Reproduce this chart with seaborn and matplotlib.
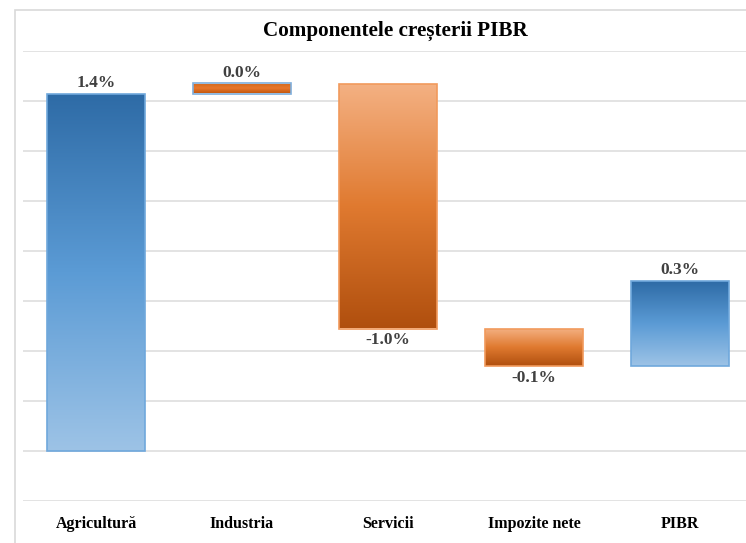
import numpy as np
import pandas as pd
import seaborn as sns
import matplotlib
matplotlib.use("Agg")
from matplotlib import pyplot as plt
from matplotlib.colors import LinearSegmentedColormap
from matplotlib.patches import Rectangle

# data
categories = ["Agricultură", "Industria", "Servicii", "Impozite nete", "PIBR"]
values = [1.43, 0.04, -0.98, -0.15, 0.34]
value_labels = ["1.4%", "0.0%", "-1.0%", "-0.1%", "0.3%"]

# waterfall bottoms (the total bar sits on top of the running end, like the original)
bottoms = []
run = 0.0
for v in values[:-1]:
    bottoms.append(run if v >= 0 else run + v)
    run += v
bottoms.append(run)

df = pd.DataFrame({"cat": categories, "val": np.abs(values)})

sns.set_theme(style="white")
plt.rcParams["font.family"] = ["Liberation Serif", "DejaVu Serif"]

fig = plt.figure(figsize=(7.46, 5.43), dpi=100)
W, H = 746, 543
ax = fig.add_axes([23 / W, 1 - 501 / H, 730 / W, 450 / H])

sns.barplot(data=df, x="cat", y="val", ax=ax, width=0.67, color="#ED7D31")

blue = LinearSegmentedColormap.from_list("b", ["#9DC3E6", "#5B9BD5", "#2E6BA6"])
orange_neg = LinearSegmentedColormap.from_list("o", ["#B04F0E", "#E07A30", "#F4B183"])
orange_ind = LinearSegmentedColormap.from_list("i", ["#C55A11", "#E8772C", "#D06A20"])

grad = np.linspace(0, 1, 256).reshape(-1, 1)
for i, p in enumerate(ax.patches):
    v = values[i]
    p.set_y(bottoms[i])
    p.set_height(abs(v))
    if i == 1:
        cmap, edge = orange_ind, "#7FAEDB"
    elif v >= 0:
        cmap, edge = blue, "#6FA8DC"
    else:
        cmap, edge = orange_neg, "#F19A5C"
    p.set_facecolor("none")
    p.set_edgecolor(edge)
    p.set_linewidth(1.2)
    p.set_zorder(3)
    x0 = p.get_x()
    im = ax.imshow(grad, cmap=cmap, aspect="auto", origin="lower",
                   extent=[x0, x0 + p.get_width(), bottoms[i], bottoms[i] + abs(v)],
                   zorder=2)
    im.set_clip_path(p)

    if v >= 0:
        ax.text(x0 + p.get_width() / 2, bottoms[i] + abs(v) + 0.010, value_labels[i],
                ha="center", va="bottom", fontsize=12.5, fontweight="bold", color="#404040")
    else:
        ax.text(x0 + p.get_width() / 2, bottoms[i] - 0.016, value_labels[i],
                ha="center", va="top", fontsize=12.5, fontweight="bold", color="#404040")

ax.set_xlim(-0.5, 4.5)
ax.set_ylim(-0.2, 1.6)
ax.set_yticks(np.arange(-0.2, 1.61, 0.2))
ax.set_yticklabels([])
ax.yaxis.grid(True, color="#E0E0E0", linewidth=1.3, zorder=0)
ax.set_axisbelow(True)
for s in ax.spines.values():
    s.set_visible(False)
ax.tick_params(axis="x", length=0, pad=11)
ax.tick_params(axis="y", length=0)
ax.set_xlabel("")
ax.set_ylabel("")
for t in ax.get_xticklabels():
    t.set_fontweight("bold")
    t.set_fontsize(11.5)
    t.set_color("black")

# chart border
fig.patches.append(Rectangle((15 / W, -0.1), 1.0, 1 - 10 / H + 0.1, transform=fig.transFigure,
                             fill=False, edgecolor="#D9D9D9", linewidth=1.2, zorder=0))

fig.text(395 / W, 1 - 31 / H, "Componentele creșterii PIBR", ha="center", va="center",
         fontsize=15.2, fontweight="bold", color="black")

fig.savefig("out.png", dpi=100)
